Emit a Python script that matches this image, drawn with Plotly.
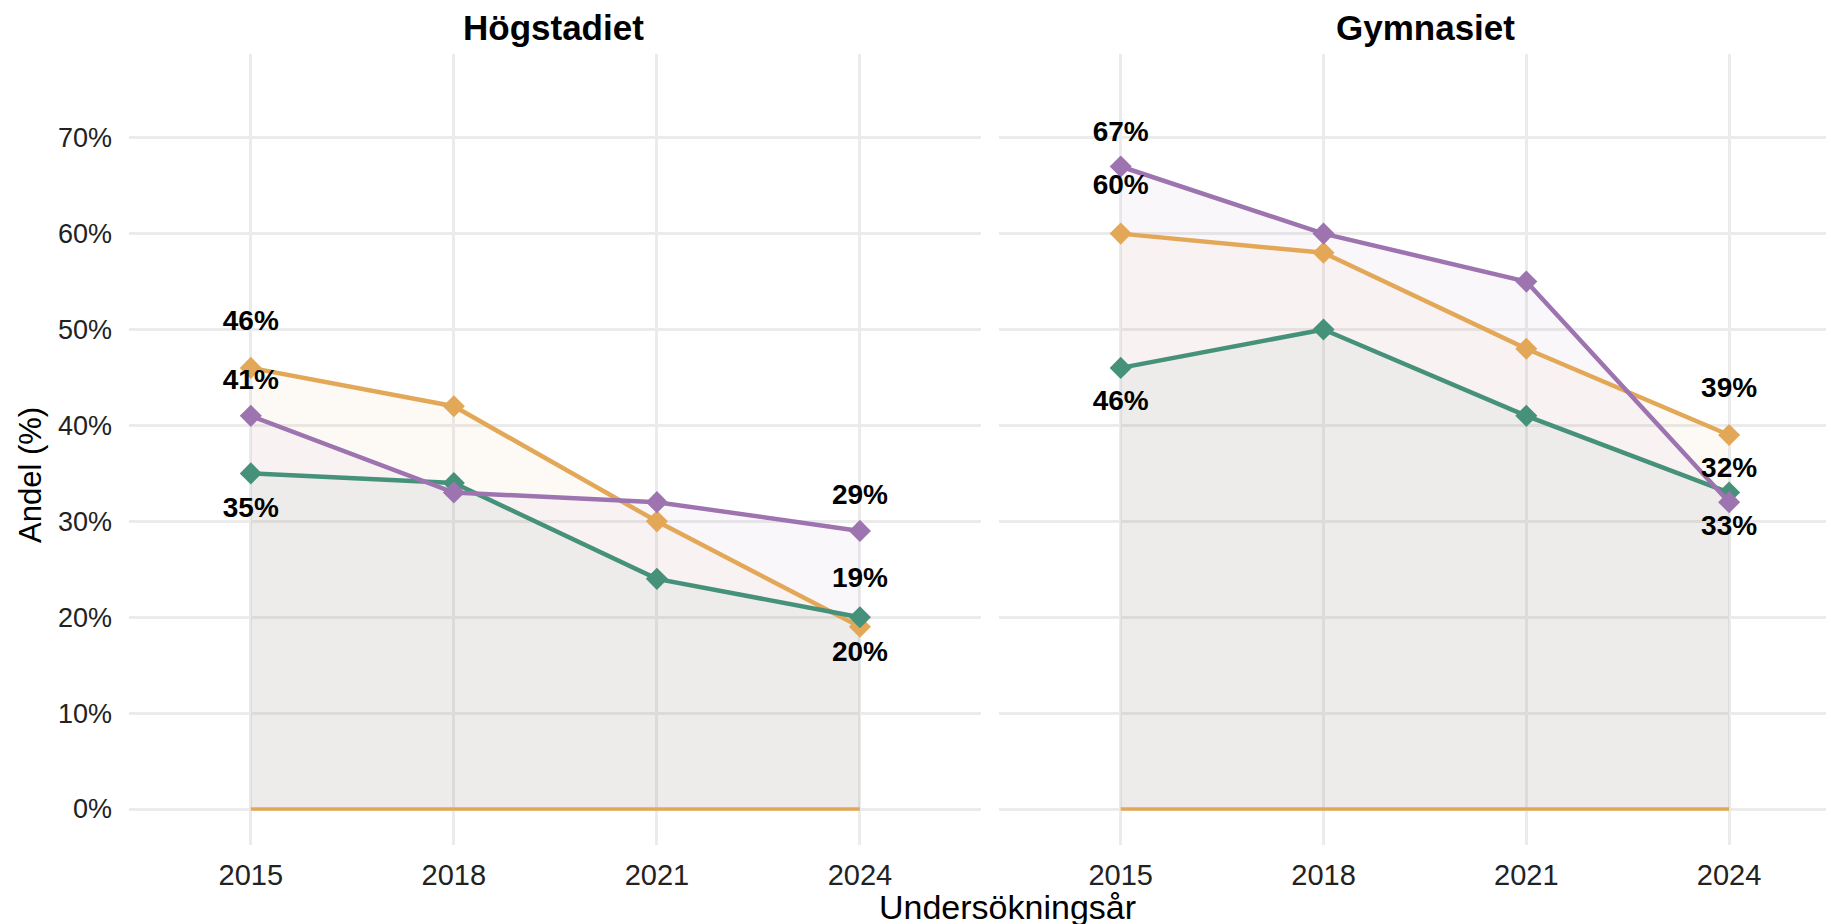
import plotly.graph_objects as go
from plotly.subplots import make_subplots

years = [2015, 2018, 2021, 2024]
baseline = [0, 0, 0, 0]

# Högstadiet
hog_orange = [46, 42, 30, 19]
hog_purple = [41, 33, 32, 29]
hog_green = [35, 34, 24, 20]

# Gymnasiet
gym_orange = [60, 58, 48, 39]
gym_purple = [67, 60, 55, 32]
gym_green = [46, 50, 41, 33]

# value labels (year, label height in %, text)
hog_label_x = [2015, 2015, 2015, 2024, 2024, 2024]
hog_label_y = [50.7, 44.5, 31.2, 32.5, 23.9, 16.2]
hog_label_text = ["46%", "41%", "35%", "29%", "19%", "20%"]

gym_label_x = [2015, 2015, 2015, 2024, 2024, 2024]
gym_label_y = [70.4, 64.9, 42.3, 43.7, 35.4, 29.3]
gym_label_text = ["67%", "60%", "46%", "39%", "32%", "33%"]

y_ticks = [0, 10, 20, 30, 40, 50, 60, 70]
y_ticktext = [f"{v}%" for v in y_ticks]

ORANGE = "#e3a857"
PURPLE = "#9d74b0"
GREEN = "#46917a"
FONT = "Liberation Sans, Arial, sans-serif"


def fill_color(hex_color, alpha=0.055):
    h = hex_color.lstrip("#")
    r, g, b = int(h[0:2], 16), int(h[2:4], 16), int(h[4:6], 16)
    return f"rgba({r},{g},{b},{alpha})"


fig = make_subplots(rows=1, cols=2)

panels = [
    (1, hog_orange, hog_green, hog_purple),
    (2, gym_orange, gym_green, gym_purple),
]

# fills first, then lines on top
for col, orange, green, purple in panels:
    for vals, color in [(orange, ORANGE), (purple, PURPLE), (green, GREEN)]:
        fig.add_trace(
            go.Scatter(
                x=years, y=vals, mode="none", fill="tozeroy",
                fillcolor=fill_color(color), showlegend=False, hoverinfo="skip",
            ),
            row=1, col=col,
        )
    fig.add_trace(
        go.Scatter(x=years, y=baseline, mode="lines",
                   line=dict(color=ORANGE, width=3.5), showlegend=False),
        row=1, col=col,
    )
    for vals, color in [(orange, ORANGE), (green, GREEN), (purple, PURPLE)]:
        fig.add_trace(
            go.Scatter(
                x=years, y=vals, mode="lines+markers",
                line=dict(color=color, width=4.5),
                marker=dict(symbol="diamond", size=17, color=color),
                showlegend=False,
            ),
            row=1, col=col,
        )

for col, lx, ly, lt in [(1, hog_label_x, hog_label_y, hog_label_text),
                        (2, gym_label_x, gym_label_y, gym_label_text)]:
    fig.add_trace(
        go.Scatter(
            x=lx, y=ly, text=lt, mode="text", textposition="middle center",
            textfont=dict(family=FONT, size=28, color="#000000", weight="bold"),
            showlegend=False, hoverinfo="skip",
        ),
        row=1, col=col,
    )

axis_common = dict(
    showgrid=True, gridcolor="#ebebeb", gridwidth=3, zeroline=False,
    showline=False, ticks="",
)
fig.update_xaxes(**axis_common, tickvals=years, ticklabelstandoff=10,
                 tickfont=dict(family=FONT, size=29, color="#222222"))
fig.update_xaxes(range=[2013.2, 2025.79], domain=[0, 0.4974], row=1, col=1)
fig.update_xaxes(range=[2013.2, 2025.67], domain=[0.5079, 1], row=1, col=2)
fig.update_yaxes(**axis_common, range=[-3.75, 78.73], tickvals=y_ticks,
                 ticktext=y_ticktext, ticklabelstandoff=16,
                 tickfont=dict(family=FONT, size=27, color="#222222"))
fig.update_yaxes(showticklabels=False, row=1, col=2)

fig.add_annotation(text="<b>Högstadiet</b>", x=0.2481, y=1.034, xref="paper", yref="paper",
                   xanchor="center", yanchor="middle", showarrow=False,
                   font=dict(family=FONT, size=35, color="#000000"))
fig.add_annotation(text="<b>Gymnasiet</b>", x=0.7566, y=1.034, xref="paper", yref="paper",
                   xanchor="center", yanchor="middle", showarrow=False,
                   font=dict(family=FONT, size=35, color="#000000"))
fig.add_annotation(text="Undersökningsår", x=0.5131, y=-0.079, xref="paper", yref="paper",
                   xanchor="center", yanchor="middle", showarrow=False,
                   font=dict(family=FONT, size=34, color="#000000"))
fig.add_annotation(text="Andel (%)", x=-0.0572, y=0.4678, xref="paper", yref="paper",
                   xanchor="center", yanchor="middle", textangle=-90, showarrow=False,
                   font=dict(family=FONT, size=31, color="#000000"))

fig.update_layout(
    width=1834, height=924,
    margin=dict(l=121, r=0, t=46, b=87),
    plot_bgcolor="white", paper_bgcolor="white",
    font=dict(family=FONT),
)

fig.write_html("out.html")
